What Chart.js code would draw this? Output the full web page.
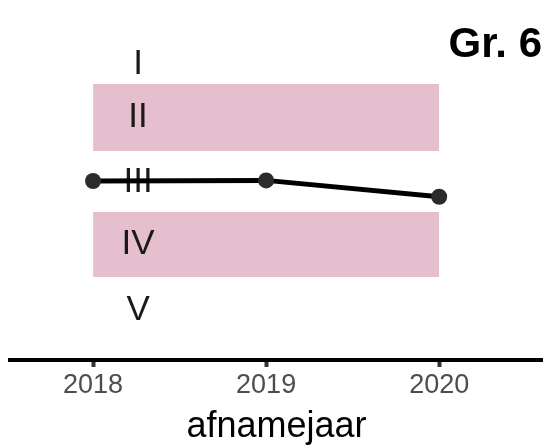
<!DOCTYPE html>
<html>
<head>
<meta charset="utf-8">
<script src="https://cdn.jsdelivr.net/npm/chart.js@4"></script>
<style>
html,body{margin:0;padding:0;background:#fff;overflow:hidden;}
#wrap{width:543px;height:445px;position:relative;}
</style>
</head>
<body>
<div id="wrap"><canvas id="c"></canvas></div>
<script>
const years = [2018, 2019, 2020];
const scores = [3.0, 3.01, 2.75];
const levelLabels = ['I', 'II', 'III', 'IV', 'V'];
const levelValues = [4.87, 4.02, 3.0, 2.01, 0.96];
const bandYears = [2018, 2020];
const bandII = [3.476, 4.54];
const bandIV = [1.476, 2.508];
const labelYear = 2018.26;
const titleText = 'Gr. 6';
const xTitle = 'afnamejaar';

const pink = 'rgb(230,191,206)';
const FONT = '"Liberation Sans", Arial, Helvetica, sans-serif';

function bandData(v){ return bandYears.map(x => ({x, y: v})); }

const overlay = {
  id: 'overlay',
  beforeDatasetDraw(chart, args){
    if (args.index !== 4) return;
    const ctx = chart.ctx, xs = chart.scales.x, ys = chart.scales.y;
    ctx.save();
    ctx.fillStyle = '#1a1a1a';
    ctx.font = '35px ' + FONT;
    ctx.textAlign = 'center';
    ctx.textBaseline = 'middle';
    levelLabels.forEach((t, i) => {
      ctx.fillText(t, xs.getPixelForValue(labelYear), ys.getPixelForValue(levelValues[i]) + 1);
    });
    ctx.restore();
  },
  afterDraw(chart){
    const ctx = chart.ctx;
    ctx.save();
    ctx.fillStyle = '#000';
    ctx.font = 'bold 42px ' + FONT;
    ctx.textAlign = 'right';
    ctx.textBaseline = 'alphabetic';
    ctx.fillText(titleText, 542, 57);
    ctx.restore();
  }
};

new Chart(document.getElementById('c'), {
  type: 'line',
  data: {
    datasets: [
      { order: 2, data: bandData(bandII[1]), borderWidth: 0, pointRadius: 0, fill: false, backgroundColor: pink },
      { order: 2, data: bandData(bandII[0]), borderWidth: 0, pointRadius: 0, fill: '-1', backgroundColor: pink },
      { order: 2, data: bandData(bandIV[1]), borderWidth: 0, pointRadius: 0, fill: false, backgroundColor: pink },
      { order: 2, data: bandData(bandIV[0]), borderWidth: 0, pointRadius: 0, fill: '-1', backgroundColor: pink },
      {
        order: 0,
        data: years.map((x, i) => ({x, y: scores[i]})),
        borderColor: '#000',
        borderWidth: 5,
        pointRadius: 8,
        pointBackgroundColor: '#2b2b2b',
        pointBorderColor: '#2b2b2b',
        pointBorderWidth: 0,
        fill: false,
        tension: 0
      }
    ]
  },
  options: {
    responsive: true,
    maintainAspectRatio: false,
    animation: false,
    layout: { autoPadding: false, padding: { left: 10, right: 0, top: 0, bottom: 0 } },
    plugins: { legend: { display: false }, tooltip: { enabled: false } },
    scales: {
      x: {
        type: 'linear',
        min: 2017.52,
        max: 2020.6,
        afterBuildTicks(scale){ scale.ticks = years.map(v => ({value: v})); },
        afterFit(scale){ scale.height = 85; },
        grid: { display: true, drawOnChartArea: false, drawTicks: true, tickLength: 7, tickColor: '#333', tickWidth: 4 },
        border: { display: true, color: '#000', width: 4 },
        ticks: {
          color: '#4d4d4d',
          font: { family: FONT, size: 27 },
          padding: 2,
          maxRotation: 0,
          callback: v => String(v)
        },
        title: {
          display: true,
          text: xTitle,
          color: '#000',
          font: { family: FONT, size: 36, lineHeight: 1.2 },
          padding: { top: 0, bottom: -4 }
        }
      },
      y: {
        display: false,
        min: 0.159,
        max: 5.873
      }
    }
  },
  plugins: [overlay]
});
</script>
</body>
</html>
